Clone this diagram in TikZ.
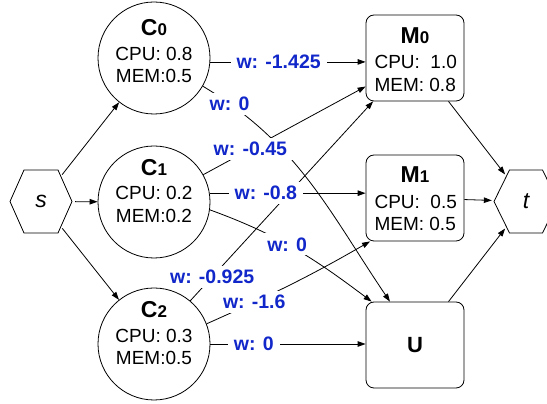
\documentclass[tikz,border=0pt]{standalone}
\usepackage{fontspec}
\setmainfont{Liberation Sans}
\usetikzlibrary{arrows.meta,calc}
\definecolor{wblue}{RGB}{17,39,201}
\begin{document}
\begin{tikzpicture}[x=1pt,y=1pt,
  cnode/.style={draw, circle, line width=0.8pt, minimum size=112pt, inner sep=0pt},
  mnode/.style={draw, rectangle, rounded corners=8pt, line width=0.8pt, minimum width=98pt, minimum height=86pt, inner sep=0pt},
  hexnode/.style={circle, minimum size=68pt, inner sep=0pt, font=\fontsize{23}{23}\selectfont\itshape},
  hexline/.style={line width=0.8pt},
  conn/.style={line width=0.8pt, -{Triangle[length=8pt,width=5.5pt]}},
  wlbl/.style={fill=white, text=wblue, font=\fontsize{19.5}{19.5}\selectfont\bfseries, inner xsep=6pt, inner ysep=4pt},
  ttl/.style={anchor=base, font=\fontsize{23}{23}\selectfont\bfseries},
  txt/.style={anchor=base, font=\fontsize{19}{19}\selectfont},
]
\useasboundingbox (0,0) rectangle (547,404);

% main nodes
\node[cnode] (C0) at (154,346) {};
\node[cnode] (C1) at (154,202) {};
\node[cnode] (C2) at (154,60) {};
\node[mnode] (M0) at (415,346) {};
\node[mnode] (M1) at (415,206) {};
\node[mnode, font=\fontsize{22}{22}\selectfont\bfseries] (U) at (415,59) {U};
\node[hexnode] (s) at (41,202.5) {s};
\node[hexnode] (t) at (526,202.5) {t};

% hexagons
\draw[hexline] ($(s)+(-31,0)$) -- ++(14,31.5) -- ++(34,0) -- ++(14,-31.5) -- ++(-14,-31.5) -- ++(-34,0) -- cycle;
\draw[hexline] ($(t)+(-32,0)$) -- ++(15.5,31.5) -- ++(33,0) -- ++(15.5,-31.5) -- ++(-15.5,-31.5) -- ++(-33,0) -- cycle;

% node texts
\node[ttl] (C0n) at ($(C0)+(0,22)$) {C{\fontsize{17}{17}\selectfont 0}};
\node[txt] (C0a) at ($(C0)+(0,-3)$) {CPU: 0.8};
\node[txt] (C0b) at ($(C0)+(0,-25)$) {MEM:0.5};
\node[ttl] (C1n) at ($(C1)+(0,26)$) {C{\fontsize{17}{17}\selectfont 1}};
\node[txt] (C1a) at ($(C1)+(0,2)$) {CPU: 0.2};
\node[txt] (C1b) at ($(C1)+(0,-21)$) {MEM:0.2};
\node[ttl] (C2n) at ($(C2)+(0,26)$) {C{\fontsize{17}{17}\selectfont 2}};
\node[txt] (C2a) at ($(C2)+(0,1)$) {CPU: 0.3};
\node[txt] (C2b) at ($(C2)+(0,-21)$) {MEM:0.5};
\node[ttl] (M0n) at ($(M0)+(0,14)$) {M{\fontsize{17}{17}\selectfont 0}};
\node[txt, anchor=base west] (M0a) at ($(M0)+(-44,-11)$) {CPU:\ \ 1.0};
\node[txt, anchor=base west] (M0b) at ($(M0)+(-44,-34)$) {MEM: 0.8};
\node[ttl] (M1n) at ($(M1)+(0,15)$) {M{\fontsize{17}{17}\selectfont 1}};
\node[txt, anchor=base west] (M1a) at ($(M1)+(-44,-11)$) {CPU:\ \ 0.5};
\node[txt, anchor=base west] (M1b) at ($(M1)+(-44,-33)$) {MEM: 0.5};

% connectors
\draw[conn] (s) -- (C0);
\draw[conn] (s) -- (C1);
\draw[conn] (s) -- (C2);
\draw[conn] (C0.-4) -- (C0.-4 -| M0.west);
\draw[conn] (C0.-30) to[out=-31,in=124] (U.120);
\draw[conn] (C1.29) -- (M0.210);
\draw[conn] (C1.9) -- (C1.9 -| M1.west);
\draw[conn] (C1.-8) to[out=-20,in=143] (U.135);
\draw[conn] (C2.50) -- (M0.226);
\draw[conn] (C2.21) to[out=24,in=210] (M1.224);
\draw[conn] (C2.east) -- (C2.east -| U.west);
\draw[conn] (M0) -- (t);
\draw[conn] (M1) -- (t);
\draw[conn] (U) -- (t);

% weight labels
\path (C0.-4) -- (C0.-4 -| M0.west) node[wlbl, pos=0.44] (w1) {w: -1.425};
\path (C0.-30) to[out=-31,in=124] node[wlbl, pos=0.1] (w2) {w: 0} (U.120);
\path (C1.29) -- (M0.210) node[wlbl, pos=0.29] (w3) {w: -0.45};
\path (C1.9) -- (C1.9 -| M1.west) node[wlbl, pos=0.36] (w4) {w: -0.8};
\path (C1.-8) to[out=-20,in=143] node[wlbl, pos=0.45] (w5) {w: 0} (U.135);
\path (C2.50) -- (M0.226) node[wlbl, pos=0.12] (w6) {w: -0.925};
\path (C2.21) to[out=24,in=210] node[wlbl, pos=0.27] (w7) {w: -1.6} (M1.224);
\path (C2.east) -- (C2.east -| U.west) node[wlbl, pos=0.28] (w8) {w: 0};
\end{tikzpicture}
\end{document}
